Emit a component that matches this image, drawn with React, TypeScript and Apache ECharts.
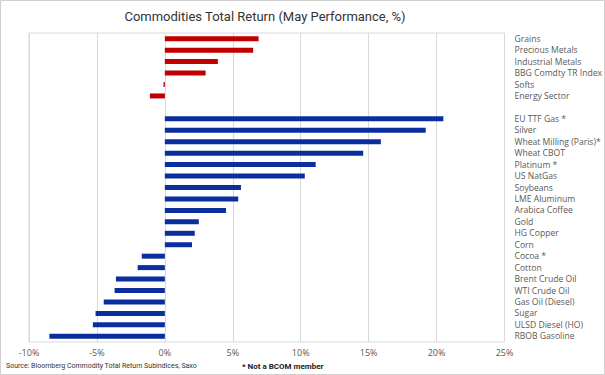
import React, { useEffect, useRef } from "react";
import * as echarts from "echarts";

const categories = [
  "Grains", "Precious Metals", "Industrial Metals", "BBG Comdty TR Index", "Softs", "Energy Sector",
  "",
  "EU TTF Gas *", "Silver", "Wheat Milling (Paris)*", "Wheat CBOT", "Platinum *", "US NatGas",
  "Soybeans", "LME Aluminum", "Arabica Coffee", "Gold", "HG Copper", "Corn", "Cocoa *", "Cotton",
  "Brent Crude Oil", "WTI Crude Oil", "Gas Oil (Diesel)", "Sugar", "ULSD Diesel (HO)", "RBOB Gasoline",
];

const sectorValues = [6.9, 6.5, 3.9, 3.0, -0.1, -1.1];
const commodityValues = [
  20.5, 19.2, 15.9, 14.6, 11.1, 10.3, 5.6, 5.4, 4.5, 2.5, 2.2, 2.0, -1.7, -2.0,
  -3.6, -3.7, -4.5, -5.1, -5.3, -8.5,
];

const xTicks = { min: -10, max: 25, interval: 5 };

export default function App() {
  const ref = useRef<HTMLDivElement>(null);
  useEffect(() => {
    if (!ref.current) return;
    const chart = echarts.init(ref.current, null, { renderer: "svg" });
    const redData: (number | null)[] = categories.map((_, i) => (i < sectorValues.length ? sectorValues[i] : null));
    const blueData: (number | null)[] = categories.map((_, i) => {
      const j = i - sectorValues.length - 1;
      return j >= 0 && j < commodityValues.length ? commodityValues[j] : null;
    });
    const font = "'Open Sans', 'Noto Sans', sans-serif";
    const narrow = "Roboto, sans-serif";
    chart.setOption({
      animation: false,
      textStyle: { fontFamily: font },
      title: {
        text: "Commodities Total Return (May Performance, %)",
        left: 260,
        textAlign: "center",
        top: 5,
        textStyle: { fontSize: 13, fontWeight: "normal", color: "#333", fontFamily: narrow },
      },
      graphic: [
        {
          type: "rect",
          shape: { x: 0.5, y: 0.5, width: 604, height: 374 },
          style: { fill: "none", stroke: "#d0d0d0", lineWidth: 1 },
          silent: true,
        },
        {
          type: "text",
          left: 6,
          top: 362,
          style: { text: "Source: Bloomberg Commodity Total Return Subindices, Saxo", fontSize: 7, fill: "#333", fontFamily: narrow },
        },
        {
          type: "text",
          left: 242,
          top: 362,
          style: { text: "* Not a BCOM member", fontSize: 8, fontWeight: "bold", fill: "#222", fontFamily: narrow },
        },
      ],
      grid: {
        left: 29,
        right: 100,
        top: 33,
        bottom: 33,
        show: true,
        borderColor: "#d9d9d9",
        borderWidth: 1,
      },
      xAxis: {
        type: "value",
        min: xTicks.min,
        max: xTicks.max,
        interval: xTicks.interval,
        axisLine: { show: false },
        axisTick: { show: false },
        axisLabel: { formatter: "{value}%", fontSize: 9, color: "#595959", margin: 6 },
        splitLine: { show: true, lineStyle: { color: "#d9d9d9", width: 1 } },
      },
      yAxis: {
        type: "category",
        data: categories,
        inverse: true,
        position: "right",
        axisLine: { show: false },
        axisTick: { show: false },
        axisLabel: { fontSize: 8.6, lineHeight: 10, color: "#595959", margin: 10, interval: 0 },
        splitLine: { show: false },
      },
      series: [
        {
          type: "bar",
          stack: "s",
          data: redData,
          barWidth: 5,
          itemStyle: { color: "#C00000" },
        },
        {
          type: "bar",
          stack: "s",
          data: blueData,
          barWidth: 5,
          itemStyle: { color: "#0A2E9E" },
        },
      ],
    });
    return () => chart.dispose();
  }, []);
  return (
    <div
      ref={ref}
      style={{ position: "fixed", left: 0, top: 0, width: 605, height: 375, background: "#fff" }}
    />
  );
}
